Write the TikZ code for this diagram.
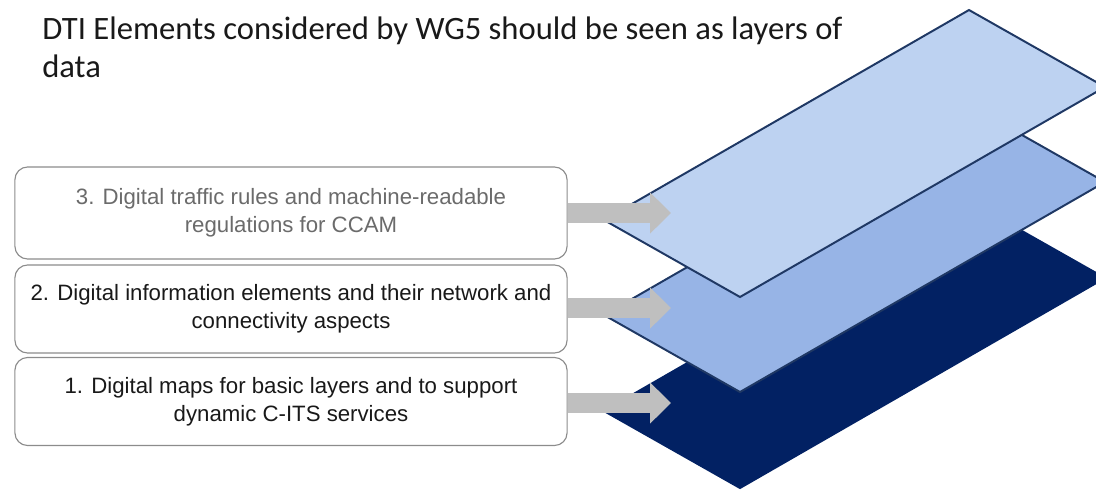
\documentclass[tikz,border=0pt]{standalone}
\usepackage{fontspec}
\setmainfont{Carlito}
\newfontfamily\labelfont{Liberation Sans}
\usetikzlibrary{arrows.meta}

\definecolor{layerTop}{HTML}{BDD2F1}
\definecolor{layerMid}{HTML}{97B4E6}
\definecolor{layerLow}{HTML}{022163}
\definecolor{layerEdge}{HTML}{1F3864}
\definecolor{arrowGray}{HTML}{BFBFBF}
\definecolor{boxEdge}{HTML}{8C8C8C}

\tikzset{
  layer/.style={draw=layerEdge, line width=1.4pt, line join=miter},
  elembox/.style={draw=boxEdge, line width=0.8pt, rounded corners=9pt, fill=white,
    minimum width=13.8cm, minimum height=2.2cm, align=center,
    font=\labelfont\fontsize{15.8}{20}\selectfont},
  blockarrow/.style={draw=arrowGray, line width=0.5cm,
    -{Triangle[length=0.525cm, width=1cm]}}
}

\begin{document}
\begin{tikzpicture}[x=0.025cm, y=-0.025cm]
  \useasboundingbox (0,0) rectangle (1096,489);

  % the three layers of data, lowest first
  \draw[layer, draw=layerLow, fill=layerLow] (604,411) -- (969,201) -- (1105,278) -- (740,488) -- cycle;
  \draw[layer, fill=layerMid] (604,315) -- (969,105) -- (1105,182) -- (740,392) -- cycle;
  \draw[layer, fill=layerTop] (604,220) -- (969,10) -- (1105,87) -- (740,297) -- cycle;

  \node[anchor=north west, inner sep=0pt, align=left, text=black!90,
        font=\fontsize{23.2}{26.5}\selectfont] (title) at (42,17)
    {DTI Elements considered by WG5 should be seen as layers of\\data};

  \node[elembox, minimum height=2.3cm, text=black!58] (elem3) at (291,213)
    {3. Digital traffic rules and machine-readable\\regulations for CCAM};
  \node[elembox, text=black!90] (elem2) at (291,309)
    {2. Digital information elements and their network and\\connectivity aspects};
  \node[elembox, text=black!90] (elem1) at (291,401.5)
    {1. Digital maps for basic layers and to support\\dynamic C-ITS services};

  \coordinate (tip3) at (671,213);
  \coordinate (tip2) at (671,308);
  \coordinate (tip1) at (671,403);

  \draw[blockarrow] (elem3.east |- tip3) -- (tip3);
  \draw[blockarrow] (elem2.east |- tip2) -- (tip2);
  \draw[blockarrow] (elem1.east |- tip1) -- (tip1);
\end{tikzpicture}
\end{document}
